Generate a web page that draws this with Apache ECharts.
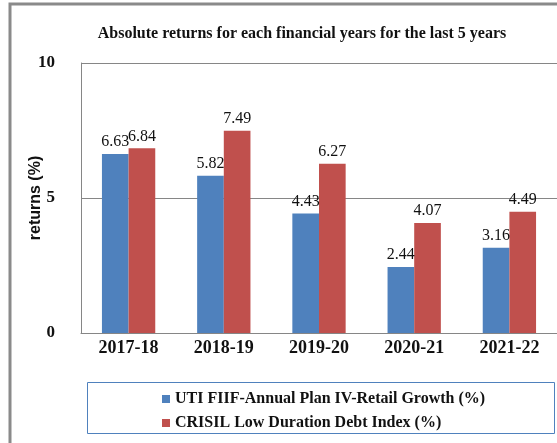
<!DOCTYPE html>
<html>
<head>
<meta charset="utf-8">
<script src="https://cdn.jsdelivr.net/npm/echarts@6/dist/echarts.min.js"></script>
<style>
  html, body { margin: 0; padding: 0; background: #fff; }
  #chart { width: 557px; height: 443px; }
</style>
</head>
<body>
<div id="chart"></div>
<script>
const years = ['2017-18', '2018-19', '2019-20', '2020-21', '2021-22']
const fundReturns = [6.63, 5.82, 4.43, 2.44, 3.16]
const indexReturns = [6.84, 7.49, 6.27, 4.07, 4.49]
const seriesNames = ['UTI FIIF-Annual Plan IV-Retail Growth (%)', 'CRISIL Low Duration Debt Index (%)']

const serif = '"Liberation Serif", "DejaVu Serif", serif'

const chart = echarts.init(document.getElementById('chart'))

const barLabel = {
  show: true,
  position: 'top',
  distance: 4,
  fontFamily: serif,
  fontSize: 16,
  color: '#111',
}

chart.setOption({
  animation: false,
  title: {
    text: 'Absolute returns for each financial years for the last 5 years',
    left: 297,
    textAlign: 'center',
    top: 21,
    textStyle: { fontFamily: serif, fontSize: 16, fontWeight: 'bold', color: '#111' },
  },
  graphic: [
    // outer chart frame
    {
      type: 'rect',
      shape: { x: 10, y: 4, width: 560, height: 460 },
      style: { fill: 'none', stroke: '#8a8a8a', lineWidth: 3 },
      silent: true,
    },
    // legend box
    {
      type: 'rect',
      shape: { x: 87.5, y: 382.5, width: 467, height: 51 },
      style: { fill: 'none', stroke: '#4f81bd', lineWidth: 1 },
      silent: true,
    },
  ],
  legend: {
    orient: 'vertical',
    left: 157,
    top: 386,
    itemWidth: 8,
    itemHeight: 8,
    itemGap: 8,
    icon: 'rect',
    textStyle: { fontFamily: serif, fontSize: 16, fontWeight: 'bold', color: '#111' },
    data: seriesNames,
  },
  grid: { left: 81, top: 63, right: -4, bottom: 110 },
  xAxis: {
    type: 'category',
    data: years,
    axisLine: { lineStyle: { color: '#868686' } },
    axisTick: { show: false },
    axisLabel: { margin: 6, fontFamily: serif, fontSize: 18, fontWeight: 'bold', color: '#111' },
  },
  yAxis: {
    type: 'value',
    min: 0,
    max: 10,
    interval: 5,
    name: 'returns (%)',
    nameLocation: 'middle',
    nameGap: 37,
    nameMoveOverlap: false,
    nameTextStyle: { fontFamily: '"Liberation Sans", sans-serif', fontSize: 16, fontWeight: 'bold', color: '#111' },
    axisLine: { show: true, lineStyle: { color: '#868686' } },
    axisTick: { show: false },
    splitLine: { lineStyle: { color: '#868686' } },
    axisLabel: { margin: 26, fontFamily: serif, fontSize: 17, fontWeight: 'bold', color: '#111' },
  },
  series: [
    {
      name: seriesNames[0],
      type: 'bar',
      data: fundReturns,
      barGap: '0%',
      barCategoryGap: '44%',
      itemStyle: { color: '#4f81bd' },
      label: barLabel,
    },
    {
      name: seriesNames[1],
      type: 'bar',
      data: indexReturns,
      itemStyle: { color: '#c0504d' },
      label: barLabel,
    },
  ],
})
</script>
</body>
</html>
